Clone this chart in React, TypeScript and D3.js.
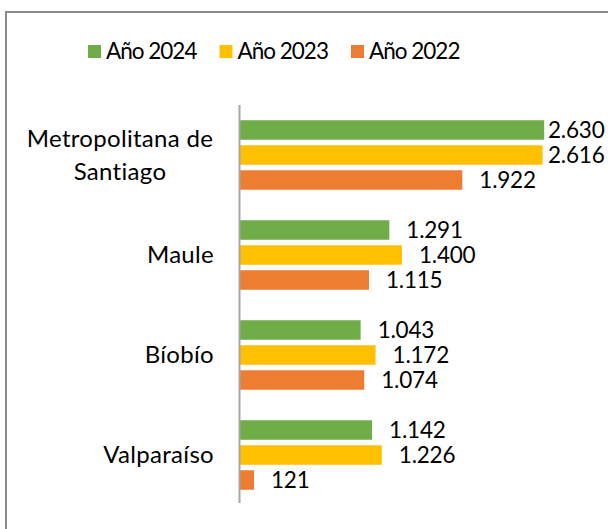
import React from "react";
import * as d3 from "d3";

const categories = ["Metropolitana de Santiago", "Maule", "Bíobío", "Valparaíso"];
const categoryLines = [["Metropolitana de", "Santiago"], ["Maule"], ["Bíobío"], ["Valparaíso"]];
const seriesNames = ["Año 2024", "Año 2023", "Año 2022"];
const values2024 = [2630, 1291, 1043, 1142];
const values2023 = [2616, 1400, 1172, 1226];
const values2022 = [1922, 1115, 1074, 121];
const colors = ["#70AD47", "#FFC000", "#ED7D31"];

const W = 608;
const H = 529;
const FONT = "Lato, 'Open Sans', sans-serif";
const fmt = (v: number) => d3.format(",")(v).replace(/,/g, ".");

export default function App() {
  const series = [values2024, values2023, values2022];
  const y = d3.scaleBand().domain(categories).range([105, 505]);
  const inner = d3.scaleBand().domain(seriesNames).range([0, y.bandwidth()]).paddingInner(0.22).paddingOuter(0.61);
  const x = d3.scaleLinear().domain([0, 3000]).range([240, 587]);
  const labelMaxX = 548;

  return (
    <div style={{ position: "absolute", left: 0, top: 0 }}>
      <svg
        width={W}
        height={H}
        style={{ display: "block", background: "#fff", fontVariantLigatures: "none" }}
        fontFamily={FONT}
      >
        <rect x={6} y={12} width={W + 20} height={H + 20} fill="#fff" stroke="#8c8c8c" strokeWidth={2} />

        {/* legend */}
        {seriesNames.map((s, i) => {
          const lx = 88 + i * 131.5;
          return (
            <g key={s}>
              <rect x={lx} y={45} width={13} height={13} fill={colors[i]} />
              <text x={lx + 18} y={51.5} dy="0.35em" fontSize={22.5} letterSpacing={-1} fill="#000">{s}</text>
            </g>
          );
        })}

        {/* bars */}
        {categories.map((c, ci) => (
          <g key={c} transform={`translate(0,${y(c)})`}>
            {seriesNames.map((s, si) => {
              const v = series[si][ci];
              const by = inner(s)!;
              const bh = inner.bandwidth();
              return (
                <g key={s}>
                  <rect x={x(0)} y={by} width={x(v) - x(0)} height={bh} fill={colors[si]} />
                  <text x={Math.min(x(v) + 17, labelMaxX)} y={by + bh / 2} dy="0.35em" fontSize={22.5} letterSpacing={-0.2} fill="#000">
                    {fmt(v)}
                  </text>
                </g>
              );
            })}
          </g>
        ))}

        {/* axis line */}
        <line x1={239.5} x2={239.5} y1={105} y2={503} stroke="#a6a6a6" strokeWidth={2} />

        {/* category labels */}
        {categories.map((c, ci) => {
          const lines = categoryLines[ci];
          const cy = y(c)! + y.bandwidth() / 2;
          const multi = lines.length > 1;
          return (
            <text key={c} fontSize={24} letterSpacing={0.3} fill="#000" textAnchor={multi ? "middle" : "end"}>
              {lines.map((l, li) => (
                <tspan key={l} x={multi ? 120 : 214} y={cy + (li - (lines.length - 1) / 2) * 33} dy="0.35em">
                  {l}
                </tspan>
              ))}
            </text>
          );
        })}
      </svg>
    </div>
  );
}
